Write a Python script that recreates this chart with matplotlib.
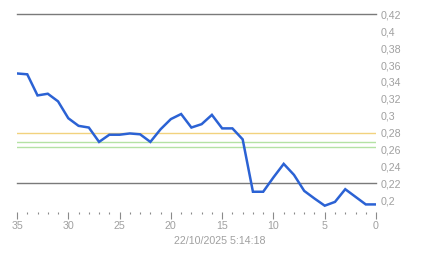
#!/usr/bin/env python3
# -*- coding: utf-8 -*-

# Import modules
import matplotlib
matplotlib.use("Agg")
import matplotlib.pyplot as plt
from matplotlib.ticker import FixedLocator, MultipleLocator, FuncFormatter


#################### DATA ####################
# Days before the reading (x axis, reversed)
days_ago = [35, 34, 33, 32, 31, 30, 29, 28, 27, 26, 25, 24,
            23, 22, 21, 20, 19, 18, 17, 16, 15, 14, 13, 12,
            11, 10, 9, 8, 7, 6, 5, 4, 3, 2, 1, 0]

# Measured values
values = [0.350, 0.349, 0.324, 0.326, 0.317, 0.297, 0.288, 0.286,
          0.269, 0.2775, 0.2775, 0.279, 0.278, 0.269, 0.284, 0.296,
          0.302, 0.286, 0.290, 0.301, 0.285, 0.285, 0.272, 0.210,
          0.210, 0.227, 0.243, 0.230, 0.211, 0.202, 0.1935, 0.198,
          0.213, 0.204, 0.195, 0.195]

# Reference levels
limit_levels = [0.42, 0.22]
warn_level = 0.28
ok_levels = [0.2685, 0.263]

# Axis labels
y_ticks = [0.20, 0.22, 0.24, 0.26, 0.28, 0.30, 0.32, 0.34, 0.36, 0.38, 0.40, 0.42]
x_ticks = [35, 30, 25, 20, 15, 10, 5, 0]
timestamp = "22/10/2025 5:14:18"


#################### MAIN ####################
def main():
    plt.rcParams["font.family"] = ["Liberation Sans", "DejaVu Sans"]
    text_color = "#a0a0a0"

    # Initialize figure and axis
    fig = plt.figure(figsize=(4.43, 2.58), dpi=100)
    ax = fig.add_axes([0.0384, 0.1795, 0.8104, 0.7817])

    # Reference lines
    for lvl in limit_levels:
        ax.axhline(lvl, color="#7a7a7a", lw=1.0, zorder=1, clip_on=False)
    ax.axhline(warn_level, color="#f2d27e", lw=1.0, zorder=1)
    for lvl in ok_levels:
        ax.axhline(lvl, color="#b4e2a4", lw=1.0, zorder=1)

    # Plot series
    ax.plot(days_ago, values, color="#2b62d4", lw=1.8, zorder=3,
            solid_joinstyle="miter")

    # Format axes
    ax.set_xlim(35, 0)
    ax.set_ylim(0.1864, 0.4251)
    for side in ["top", "bottom", "left", "right"]:
        ax.spines[side].set_visible(False)

    ax.xaxis.set_major_locator(FixedLocator(x_ticks))
    ax.xaxis.set_minor_locator(MultipleLocator(1))
    ax.tick_params(axis="x", which="major", length=5, width=0.8,
                   color="#8a8a8a", labelcolor=text_color, labelsize=7.7, pad=2)
    ax.tick_params(axis="x", which="minor", length=1.5, width=0.8,
                   color="#8a8a8a")

    ax.yaxis.tick_right()
    ax.yaxis.set_major_locator(FixedLocator(y_ticks))
    ax.yaxis.set_major_formatter(
        FuncFormatter(lambda v, p: f"{v:g}".replace(".", ",")))
    ax.tick_params(axis="y", length=0, labelcolor=text_color,
                   labelsize=7.7, pad=3)

    # Timestamp
    fig.text(0.496, 0.067, timestamp, ha="center", va="center",
             color=text_color, fontsize=7.7)

    fig.savefig("out.png", dpi=100, facecolor="white")


if __name__ == "__main__":
    main()


# end of file
